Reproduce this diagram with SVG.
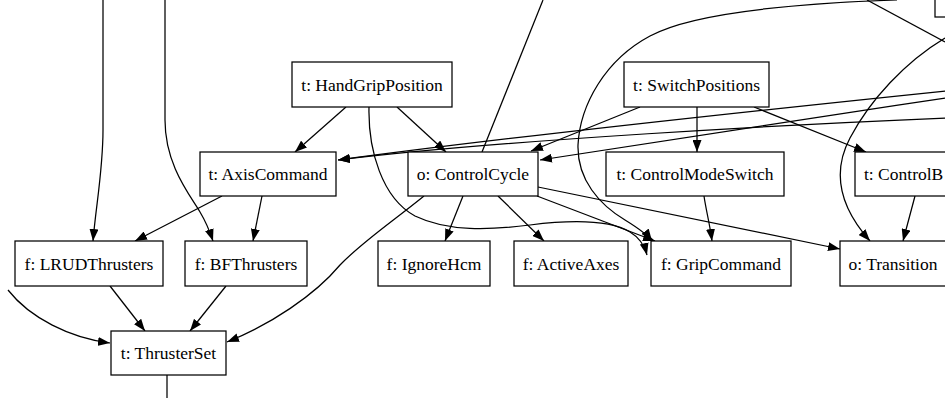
<svg xmlns="http://www.w3.org/2000/svg" width="945" height="398" viewBox="0 0 945 398">
  <style>
    .node rect { fill: #ffffff; stroke: #000000; stroke-width: 1.25; }
    .node text { font-family: 'Liberation Serif', 'DejaVu Serif', serif; font-size: 17.5px; fill: #000000; text-anchor: middle; }
    .edges path { fill: none; stroke: #000000; stroke-width: 1.25; }
    .edges path.arr { marker-end: url(#head); }
  </style>
  <defs>
    <marker id="head" viewBox="0 0 12 9" refX="12" refY="4.5" markerWidth="12" markerHeight="9" markerUnits="userSpaceOnUse" orient="auto">
      <path d="M0,0 L12,4.5 L0,9 Z" fill="#000000"/>
    </marker>
  </defs>
  <rect x="0" y="0" width="945" height="398" fill="#ffffff"/>

  <g class="edges">
    <path class="arr" d="M103,0 L103,130 C103,170 96,205 93,241"/>
    <path class="arr" d="M165,0 L165,120 C165,165 190,195 200,212 C206,222 210,232 213,241"/>
    <path class="arr" d="M346,107 L295,152"/>
    <path class="arr" d="M397,107 L446,152"/>
    <path class="arr" d="M369,107 C368,150 382,198 415,216 C448,232 490,230 530,225 C570,220 610,220 630,232 C640,238 645,247 647,255"/>
    <path d="M543,0 L482,152"/>
    <path class="arr" d="M897,0 C780,4 690,14 650,36 C605,60 580,105 578,145 C577,180 600,205 625,220 C638,228 647,234 652,241"/>
    <path class="arr" d="M945,91 C800,106 500,138 338,160"/>
    <path class="arr" d="M945,118 C800,124 500,140 338,160"/>
    <path class="arr" d="M640,107 L531,151"/>
    <path class="arr" d="M945,98 C800,120 650,143 540,160"/>
    <path class="arr" d="M697,107 L697,152"/>
    <path class="arr" d="M754,107 L866,152"/>
    <path class="arr" d="M704,196 C706,210 710,225 712,241"/>
    <path class="arr" d="M915,196 L903,241"/>
    <path d="M867,0 L945,42"/>
    <path class="arr" d="M945,38 C905,62 870,100 850,138 C833,170 838,205 870,241"/>
    <path class="arr" d="M222,196 L135,241"/>
    <path class="arr" d="M262,196 L253,241"/>
    <path class="arr" d="M110,286 L145,331"/>
    <path class="arr" d="M226,286 L190,331"/>
    <path class="arr" d="M8,290 C30,318 70,338 110,343"/>
    <path class="arr" d="M424,196 C392,222 362,242 340,265 C315,295 270,325 227,342"/>
    <path class="arr" d="M463,196 L445,241"/>
    <path class="arr" d="M498,196 L544,241"/>
    <path class="arr" d="M537,196 L655,241"/>
    <path class="arr" d="M538,187 L840,249"/>
    <path d="M167,375 L167,398"/>
  </g>

  <g id="corner" class="node">
    <rect x="935" y="-30" width="40" height="47"/>
  </g>
  <g id="HandGripPosition" class="node">
    <rect x="292" y="62" width="160" height="45"/>
    <text x="372" y="90.5" font-family="Liberation Serif, serif">t: HandGripPosition</text>
  </g>
  <g id="SwitchPositions" class="node">
    <rect x="624" y="62" width="145" height="45"/>
    <text x="696.5" y="90.5" font-family="Liberation Serif, serif">t: SwitchPositions</text>
  </g>
  <g id="AxisCommand" class="node">
    <rect x="200" y="152" width="136" height="44"/>
    <text x="268" y="180" font-family="Liberation Serif, serif">t: AxisCommand</text>
  </g>
  <g id="ControlCycle" class="node">
    <rect x="408" y="152" width="130" height="44"/>
    <text x="473" y="180" font-family="Liberation Serif, serif">o: ControlCycle</text>
  </g>
  <g id="ControlModeSwitch" class="node">
    <rect x="606" y="152" width="178" height="44"/>
    <text x="695" y="180" font-family="Liberation Serif, serif">t: ControlModeSwitch</text>
  </g>
  <g id="ControlB" class="node">
    <rect x="855" y="152" width="130" height="44"/>
    <text x="864" y="180" font-family="Liberation Serif, serif" style="text-anchor:start">t: ControlB</text>
  </g>
  <g id="LRUDThrusters" class="node">
    <rect x="15" y="241" width="148" height="45"/>
    <text x="89" y="269.5" font-family="Liberation Serif, serif">f: LRUDThrusters</text>
  </g>
  <g id="BFThrusters" class="node">
    <rect x="185" y="241" width="122" height="45"/>
    <text x="246" y="269.5" font-family="Liberation Serif, serif">f: BFThrusters</text>
  </g>
  <g id="IgnoreHcm" class="node">
    <rect x="378" y="241" width="112" height="45"/>
    <text x="434" y="269.5" font-family="Liberation Serif, serif">f: IgnoreHcm</text>
  </g>
  <g id="ActiveAxes" class="node">
    <rect x="514" y="241" width="114" height="45"/>
    <text x="571" y="269.5" font-family="Liberation Serif, serif">f: ActiveAxes</text>
  </g>
  <g id="GripCommand" class="node">
    <rect x="651" y="241" width="140" height="45"/>
    <text x="721" y="269.5" font-family="Liberation Serif, serif">f: GripCommand</text>
  </g>
  <g id="Transition" class="node">
    <rect x="840" y="241" width="107" height="45"/>
    <text x="893" y="269.5" font-family="Liberation Serif, serif">o: Transition</text>
  </g>
  <g id="ThrusterSet" class="node">
    <rect x="111" y="331" width="115" height="44"/>
    <text x="168.5" y="359" font-family="Liberation Serif, serif">t: ThrusterSet</text>
  </g>
</svg>
